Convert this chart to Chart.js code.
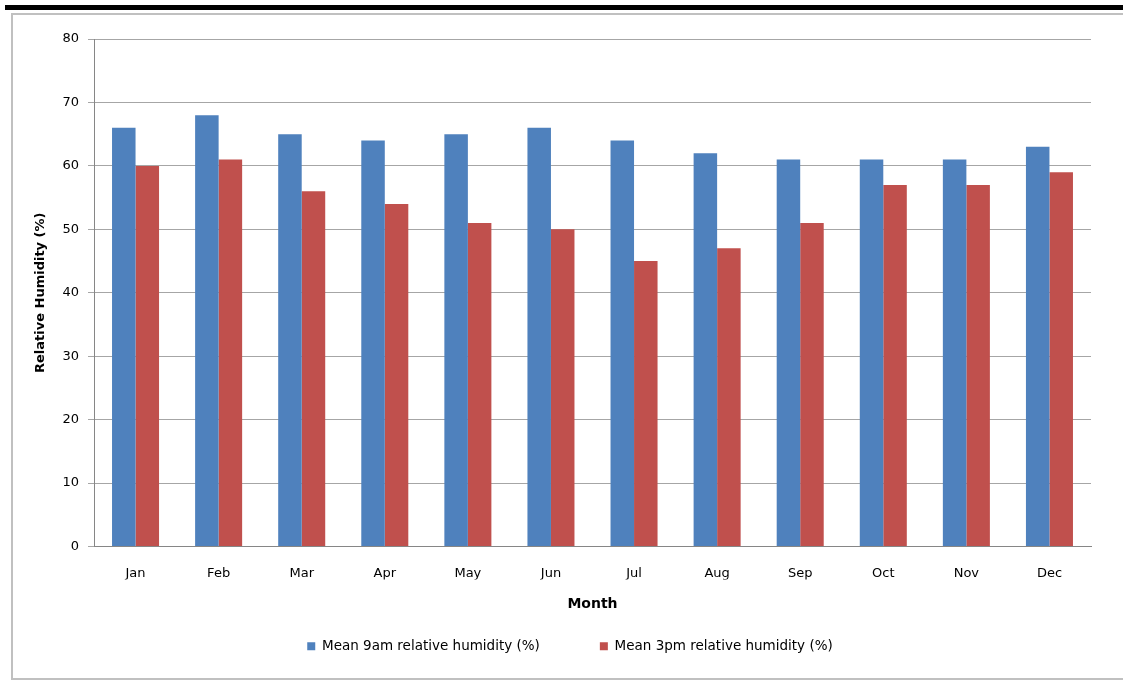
<!DOCTYPE html>
<html>
<head>
<meta charset="utf-8">
<script src="https://cdn.jsdelivr.net/npm/chart.js@4"></script>
<style>
  html, body { margin: 0; padding: 0; background: #ffffff; }
  body { width: 1123px; height: 687px; position: relative; overflow: hidden; }
  #topbar { position: absolute; left: 5px; top: 5px; width: 1118px; height: 5px; background: #000; }
  #frame { position: absolute; left: 11px; top: 13px; width: 1120px; height: 667px; border: 2px solid #c0c0c0; box-sizing: border-box; }
  #wrap { position: absolute; left: 0; top: 0; width: 1123px; height: 687px; }
</style>
</head>
<body>
<div id="topbar"></div>
<div id="frame"></div>
<div id="wrap"><canvas id="c" width="1123" height="687"></canvas></div>
<script>
const months = ["Jan","Feb","Mar","Apr","May","Jun","Jul","Aug","Sep","Oct","Nov","Dec"];
const humidity9am = [66, 68, 65, 64, 65, 66, 64, 62, 61, 61, 61, 63];
const humidity3pm = [60, 61, 56, 54, 51, 50, 45, 47, 51, 57, 57, 59];
const seriesNames = ["Mean 9am relative humidity (%)", "Mean 3pm relative humidity (%)"];
const yTicks = [0, 10, 20, 30, 40, 50, 60, 70, 80];

const FONT = "'DejaVu Sans', Verdana, sans-serif";

new Chart(document.getElementById('c'), {
  type: 'bar',
  data: {
    labels: months,
    datasets: [
      { label: seriesNames[0], data: humidity9am, backgroundColor: '#4F81BD', borderWidth: 0,
        categoryPercentage: 0.566, barPercentage: 1.0 },
      { label: seriesNames[1], data: humidity3pm, backgroundColor: '#C0504D', borderWidth: 0,
        categoryPercentage: 0.566, barPercentage: 1.0 }
    ]
  },
  options: {
    responsive: false,
    animation: false,
    layout: { padding: { top: 39, right: 32, left: 49, bottom: 24 } },
    plugins: {
      tooltip: { enabled: false },
      legend: {
        position: 'bottom',
        labels: {
          boxWidth: 8, boxHeight: 8, padding: 60, color: '#000',
          font: { family: FONT, size: 13.5 }
        }
      }
    },
    scales: {
      x: {
        grid: { display: false, drawTicks: false },
        border: { display: true, color: '#868686' },
        ticks: { color: '#000', font: { family: FONT, size: 13 }, padding: 19, maxRotation: 0 },
        title: { display: true, text: 'Month', color: '#000',
                 font: { family: FONT, size: 14, weight: 'bold' }, padding: { top: 0, bottom: -33 } },
        afterFit: (s) => { s.height = 33; }
      },
      y: {
        min: 0, max: 80,
        afterBuildTicks: (s) => { s.ticks = yTicks.map(v => ({ value: v })); },
        grid: { color: '#a6a6a6', lineWidth: 1, tickLength: 6, drawTicks: true },
        border: { display: true, color: '#868686' },
        ticks: { color: '#000', font: { family: FONT, size: 13 }, padding: 9 },
        title: { display: true, text: 'Relative Humidity (%)', color: '#000',
                 font: { family: FONT, size: 13, weight: 'bold' }, padding: { top: -16, bottom: 0 } },
        afterFit: (s) => { s.width = 45; }
      }
    }
  }
});
</script>
</body>
</html>
